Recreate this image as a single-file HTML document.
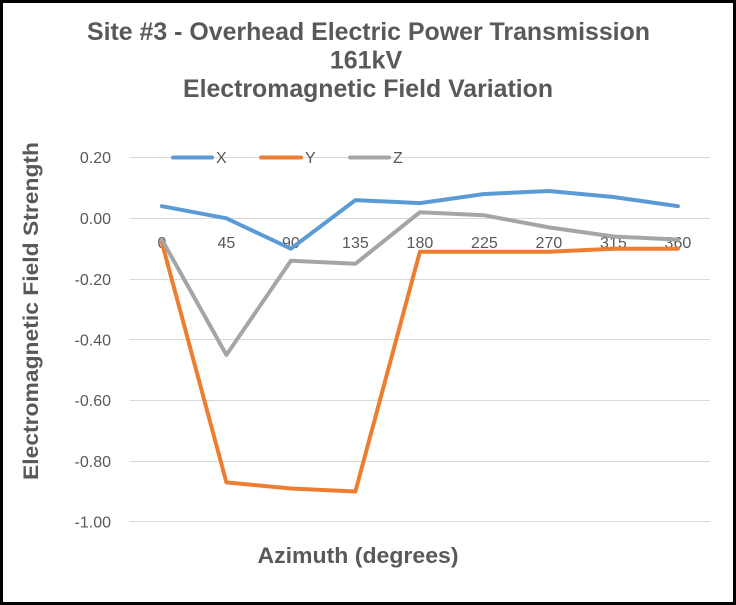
<!DOCTYPE html>
<html><head><meta charset="utf-8"><style>
html,body{margin:0;padding:0;background:#fff;}
svg{display:block;}
text{font-family:"Liberation Sans",Arial,sans-serif;fill:#595959;}
</style></head><body>
<svg width="736" height="605" viewBox="0 0 736 605" xmlns="http://www.w3.org/2000/svg">
<rect x="0" y="0" width="736" height="605" fill="#fff"/>
<g font-weight="bold" font-size="25" text-anchor="middle">
<text x="368.5" y="40" textLength="563" lengthAdjust="spacingAndGlyphs">Site #3 - Overhead Electric Power Transmission</text>
<text x="366" y="68.5">161kV</text>
<text x="368" y="97" textLength="370" lengthAdjust="spacingAndGlyphs">Electromagnetic Field Variation</text>
</g>
<text transform="translate(38,311) rotate(-90)" font-weight="bold" font-size="21.5" text-anchor="middle" textLength="338" lengthAdjust="spacingAndGlyphs">Electromagnetic Field Strength</text>
<text x="358" y="563" font-weight="bold" font-size="22.5" text-anchor="middle" textLength="201" lengthAdjust="spacingAndGlyphs">Azimuth (degrees)</text>
<g stroke="#D9D9D9" stroke-width="1">
<line x1="129.7" x2="710" y1="157.5" y2="157.5"/>
<line x1="129.7" x2="710" y1="218.5" y2="218.5"/>
<line x1="129.7" x2="710" y1="279.5" y2="279.5"/>
<line x1="129.7" x2="710" y1="339.5" y2="339.5"/>
<line x1="129.7" x2="710" y1="400.5" y2="400.5"/>
<line x1="129.7" x2="710" y1="461.5" y2="461.5"/>
<line x1="129.7" x2="710" y1="521.5" y2="521.5"/>
</g>
<g font-size="16" text-anchor="end">
<text x="111" y="163">0.20</text>
<text x="111" y="224">0.00</text>
<text x="111" y="285">-0.20</text>
<text x="111" y="345.5">-0.40</text>
<text x="111" y="406">-0.60</text>
<text x="111" y="467">-0.80</text>
<text x="111" y="527.5">-1.00</text>
</g>
<g font-size="16" text-anchor="middle">
<text x="161.9" y="248">0</text>
<text x="226.4" y="248">45</text>
<text x="290.9" y="248">90</text>
<text x="355.4" y="248">135</text>
<text x="419.9" y="248">180</text>
<text x="484.4" y="248">225</text>
<text x="548.9" y="248">270</text>
<text x="613.4" y="248">315</text>
<text x="677.9" y="248">360</text>
</g>
<g fill="none" stroke-width="4" stroke-linejoin="round" stroke-linecap="round">
<polyline stroke="#5B9BD5" points="161.9,206.2 226.4,218.3 290.9,248.7 355.4,200.1 419.9,203.1 484.4,194.0 548.9,191.0 613.4,197.0 677.9,206.2"/>
<polyline stroke="#ED7D31" points="161.9,242.6 226.4,482.4 290.9,488.5 355.4,491.5 419.9,251.7 484.4,251.7 548.9,251.7 613.4,248.7 677.9,248.7"/>
<polyline stroke="#A5A5A5" points="161.9,239.6 226.4,354.9 290.9,260.8 355.4,263.8 419.9,212.2 484.4,215.3 548.9,227.4 613.4,236.5 677.9,239.6"/>
<line stroke="#5B9BD5" x1="173" y1="157.5" x2="212" y2="157.5"/>
<line stroke="#ED7D31" x1="261" y1="157.5" x2="301" y2="157.5"/>
<line stroke="#A5A5A5" x1="350" y1="157.5" x2="389" y2="157.5"/>
</g>
<g font-size="16">
<text x="216" y="163">X</text>
<text x="305" y="163">Y</text>
<text x="393" y="163">Z</text>
</g>
<rect x="1.5" y="1.5" width="733" height="602" fill="none" stroke="#000" stroke-width="3"/>
</svg>
</body></html>
